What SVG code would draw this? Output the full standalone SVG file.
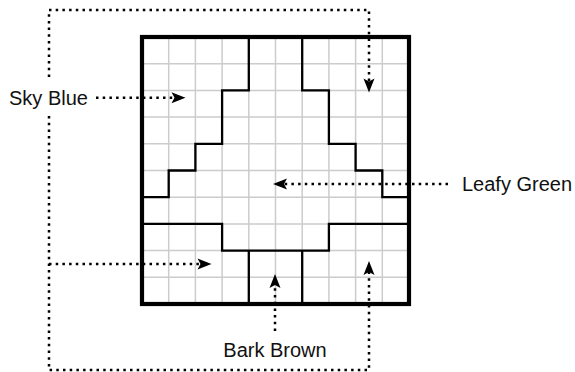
<svg xmlns="http://www.w3.org/2000/svg" width="575" height="372" viewBox="0 0 575 372">
  <style>
    .grid { fill: none; stroke: #cccccc; stroke-width: 1.5; }
    .region { fill: none; stroke: #000; stroke-width: 2.3; stroke-linejoin: miter; }
    .border { fill: none; stroke: #000; stroke-width: 4.2; }
    .dot { fill: none; stroke: #000; stroke-width: 2.5; stroke-dasharray: 2.5 4.2; }
    .arrow { fill: #000; }
    .label { font-family: "Liberation Sans", Arial, sans-serif; font-size: 20px; fill: #111; }
  </style>
  <rect width="575" height="372" fill="#fff"/>

  <g id="grid">
    <path class="grid" d="M168.7,37V304M195.4,37V304M222.1,37V304M248.8,37V304M275.5,37V304M302.2,37V304M328.9,37V304M355.6,37V304M382.3,37V304
      M142,63.7H409M142,90.4H409M142,117.1H409M142,143.8H409M142,170.5H409M142,197.2H409M142,223.9H409M142,250.6H409M142,277.3H409"/>
  </g>

  <g id="sky-blue">
    <path class="region" d="M248.8,37V90.4H222.1V143.8H195.4V170.5H168.7V197.2H142"/>
    <path class="region" d="M302.2,37V90.4H328.9V143.8H355.6V170.5H382.3V197.2H409"/>
    <path class="region" d="M142,223.9H222.1V250.6H328.9V223.9H409"/>
  </g>
  <g id="bark-brown">
    <path class="region" d="M248.8,250.6V304M302.2,250.6V304"/>
  </g>
  <g id="leafy-green">
    <rect class="border" x="142" y="37" width="267" height="267"/>
  </g>

  <g id="connectors">
    <path class="dot" d="M49,77V10H369V81.5"/>
    <path class="dot" d="M49,116V370H369V272"/>
    <path class="dot" d="M49,264H200.5"/>
    <path class="dot" d="M96,97.8H174.5"/>
    <path class="dot" d="M448,184H284"/>
    <path class="dot" d="M275,331V285"/>
    <path class="arrow" d="M369,92.5 L363.5,78.5 L369,81.5 L374.5,78.5 Z"/>
    <path class="arrow" d="M369,261 L363.5,275 L369,272 L374.5,275 Z"/>
    <path class="arrow" d="M211.5,264 L197.5,258.5 L200.5,264 L197.5,269.5 Z"/>
    <path class="arrow" d="M185.5,97.8 L171.5,92.3 L174.5,97.8 L171.5,103.3 Z"/>
    <path class="arrow" d="M273,184 L287,178.5 L284,184 L287,189.5 Z"/>
    <path class="arrow" d="M275,274 L269.5,288 L275,285 L280.5,288 Z"/>
  </g>

  <g id="labels">
    <text class="label" x="9" y="105">Sky Blue</text>
    <text class="label" x="462" y="191">Leafy Green</text>
    <text class="label" x="275" y="357" text-anchor="middle">Bark Brown</text>
  </g>
</svg>
